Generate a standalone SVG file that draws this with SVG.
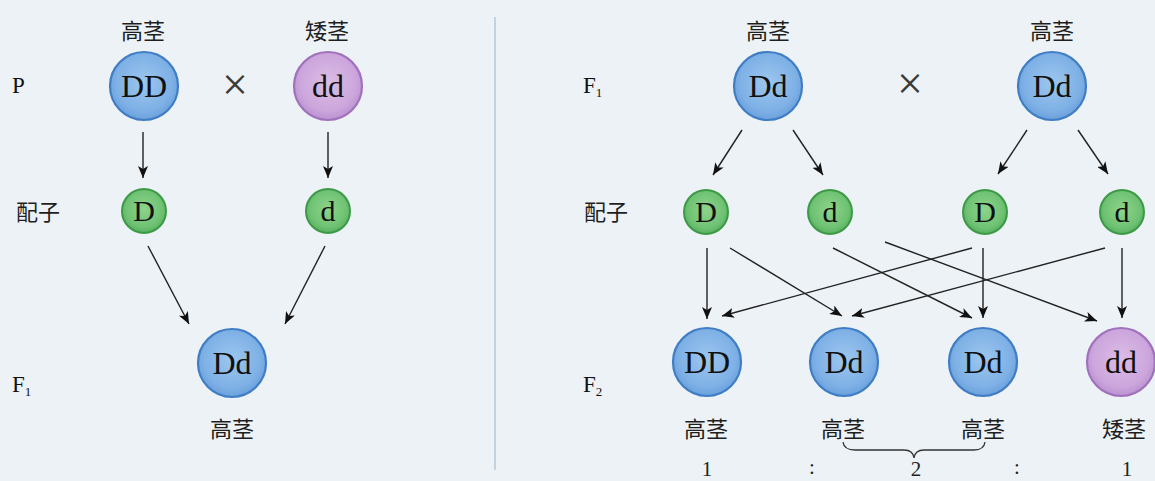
<svg xmlns="http://www.w3.org/2000/svg" width="1155" height="481" viewBox="0 0 1155 481">
<style>
.cn{font-family:"Noto Sans CJK SC","Noto Sans",sans-serif;font-size:22px;fill:#1e1e1e;text-anchor:middle}
.lbl{font-family:"Liberation Serif",serif;font-size:23px;fill:#111}
.big{font-family:"Liberation Serif",serif;font-size:32px;fill:#111;text-anchor:middle}
.gam{font-family:"Liberation Serif",serif;font-size:30px;fill:#111;text-anchor:middle}
.num{font-family:"Liberation Serif",serif;font-size:21px;fill:#222;text-anchor:middle}
.blue{fill:url(#gBlue);stroke:#3f7dc4;stroke-width:2.2}
.purple{fill:url(#gPurple);stroke:#a071bd;stroke-width:2.2}
.green{fill:url(#gGreen);stroke:#3c9a47;stroke-width:2}
.arr{stroke:#222;stroke-width:1.4;fill:none;marker-end:url(#ah)}
.cross{font-family:"Liberation Serif",serif;font-size:46px;fill:#3a3a3a;text-anchor:middle}
</style>
<defs>
<radialGradient id="gBlue" cx="0.5" cy="0.45" r="0.55">
<stop offset="0" stop-color="#9cc6ee"/><stop offset="0.75" stop-color="#7fb1e6"/><stop offset="1" stop-color="#6aa0dc"/>
</radialGradient>
<radialGradient id="gPurple" cx="0.5" cy="0.45" r="0.55">
<stop offset="0" stop-color="#dbbde6"/><stop offset="0.75" stop-color="#cca6dc"/><stop offset="1" stop-color="#bb92d0"/>
</radialGradient>
<radialGradient id="gGreen" cx="0.5" cy="0.45" r="0.55">
<stop offset="0" stop-color="#8ed48c"/><stop offset="0.75" stop-color="#6fc273"/><stop offset="1" stop-color="#58b060"/>
</radialGradient>
<marker id="ah" viewBox="0 0 12 10" refX="12" refY="5" markerWidth="12" markerHeight="10" markerUnits="userSpaceOnUse" orient="auto">
<path d="M0,0 L12,5 L0,10 L3,5 z" fill="#111"/>
</marker>
</defs>
<rect x="0" y="0" width="1155" height="481" fill="#edf2f6"/>
<line x1="495" y1="17" x2="495" y2="470" stroke="#b6c7d6" stroke-width="1.5"/>

<g id="left-labels">
<text class="cn" x="143" y="39">高茎</text>
<text class="cn" x="327" y="39">矮茎</text>
<text class="lbl" x="12" y="93">P</text>
<text class="cn" x="38" y="220">配子</text>
<text class="lbl" x="12" y="392">F<tspan font-size="13" dy="4">1</tspan></text>
<text class="cn" x="232" y="437">高茎</text>
<text class="cross" x="235" y="100">×</text>
</g>

<g id="L-DD"><circle class="blue" cx="144" cy="86" r="34"/><text class="big" x="144" y="97">DD</text></g>
<g id="L-dd"><circle class="purple" cx="328" cy="86" r="34"/><text class="big" x="328" y="97">dd</text></g>
<g id="L-gD"><circle class="green" cx="144" cy="211" r="22"/><text class="gam" x="144" y="221">D</text></g>
<g id="L-gd"><circle class="green" cx="328" cy="211" r="22"/><text class="gam" x="328" y="221">d</text></g>
<g id="L-F1"><circle class="blue" cx="232" cy="363" r="34"/><text class="big" x="232" y="374">Dd</text></g>

<g id="right-labels">
<text class="cn" x="768" y="39">高茎</text>
<text class="cn" x="1052" y="39">高茎</text>
<text class="lbl" x="583" y="93">F<tspan font-size="13" dy="4">1</tspan></text>
<text class="cn" x="606" y="220">配子</text>
<text class="lbl" x="583" y="392">F<tspan font-size="13" dy="4">2</tspan></text>
<text class="cross" x="910" y="99">×</text>
<text class="cn" x="706" y="437">高茎</text>
<text class="cn" x="843" y="437">高茎</text>
<text class="cn" x="983" y="437">高茎</text>
<text class="cn" x="1124" y="437">矮茎</text>
<path d="M843,442 Q844,450 855,450 L904,450 Q913,450 914,458 Q915,450 924,450 L974,450 Q984,450 985,442" fill="none" stroke="#333" stroke-width="1.3"/>
<text class="num" x="707" y="476">1</text>
<text class="num" x="812" y="474">:</text>
<text class="num" x="916" y="476">2</text>
<text class="num" x="1017" y="474">:</text>
<text class="num" x="1127" y="476">1</text>
</g>

<g id="R-Dd1"><circle class="blue" cx="768" cy="86" r="34"/><text class="big" x="768" y="97">Dd</text></g>
<g id="R-Dd2"><circle class="blue" cx="1052" cy="86" r="34"/><text class="big" x="1052" y="97">Dd</text></g>
<g id="R-gD1"><circle class="green" cx="706" cy="212" r="22"/><text class="gam" x="706" y="222">D</text></g>
<g id="R-gd1"><circle class="green" cx="830" cy="212" r="22"/><text class="gam" x="830" y="222">d</text></g>
<g id="R-gD2"><circle class="green" cx="985" cy="212" r="22"/><text class="gam" x="985" y="222">D</text></g>
<g id="R-gd2"><circle class="green" cx="1122" cy="212" r="22"/><text class="gam" x="1122" y="222">d</text></g>
<g id="F2-DD"><circle class="blue" cx="707" cy="362" r="34"/><text class="big" x="707" y="373">DD</text></g>
<g id="F2-Dd1"><circle class="blue" cx="844" cy="362" r="34"/><text class="big" x="844" y="373">Dd</text></g>
<g id="F2-Dd2"><circle class="blue" cx="983" cy="362" r="34"/><text class="big" x="983" y="373">Dd</text></g>
<g id="F2-dd"><circle class="purple" cx="1121" cy="362" r="34"/><text class="big" x="1121" y="373">dd</text></g>

<g id="connectors">
<line class="arr" x1="143" y1="132" x2="143" y2="178"/>
<line class="arr" x1="328" y1="132" x2="328" y2="178"/>
<line class="arr" x1="148" y1="246" x2="189" y2="324"/>
<line class="arr" x1="325" y1="246" x2="285" y2="324"/>
<line class="arr" x1="742" y1="130" x2="713" y2="175"/>
<line class="arr" x1="793" y1="130" x2="823" y2="175"/>
<line class="arr" x1="1027" y1="130" x2="998" y2="174"/>
<line class="arr" x1="1078" y1="130" x2="1108" y2="174"/>
<line class="arr" x1="707" y1="248" x2="707" y2="319"/>
<line class="arr" x1="730" y1="248" x2="842" y2="316"/>
<line class="arr" x1="833" y1="248" x2="972" y2="318"/>
<line class="arr" x1="885" y1="242" x2="1097" y2="321"/>
<line class="arr" x1="972" y1="248" x2="722" y2="316"/>
<line class="arr" x1="983" y1="248" x2="983" y2="318"/>
<line class="arr" x1="1105" y1="248" x2="852" y2="316"/>
<line class="arr" x1="1122" y1="248" x2="1122" y2="318"/>
</g>
</svg>
